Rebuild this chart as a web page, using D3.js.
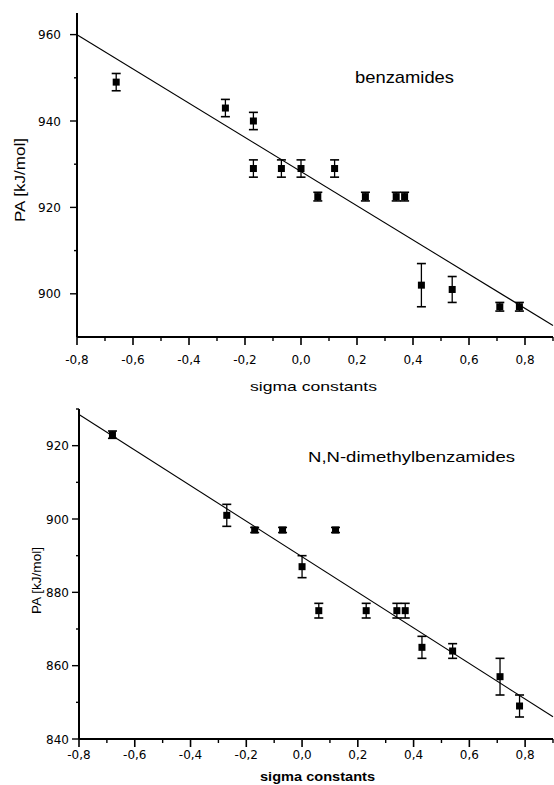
<!DOCTYPE html>
<html>
<head>
<meta charset="utf-8">
<script src="https://cdn.jsdelivr.net/npm/d3@7"></script>
<style>
  body { margin: 0; background: #fff; }
  svg { display: block; }
</style>
</head>
<body>
<script>
// benzamides (upper panel)
const benzSigma = [-0.66, -0.27, -0.17, -0.17, -0.07, 0.0, 0.12, 0.06, 0.23, 0.34, 0.37, 0.43, 0.54, 0.71, 0.78];
const benzPA    = [949, 943, 940, 929, 929, 929, 929, 922.5, 922.5, 922.5, 922.5, 902, 901, 897, 897];
const benzErr   = [2, 2, 2, 2, 2, 2, 2, 1, 1, 1, 1, 5, 3, 1, 1];
const benzFit   = [928.3, -39.6]; // intercept, slope

// N,N-dimethylbenzamides (lower panel)
const dmbSigma = [-0.68, -0.27, -0.17, -0.07, 0.12, 0.0, 0.06, 0.23, 0.34, 0.37, 0.43, 0.54, 0.71, 0.78];
const dmbPA    = [923, 901, 897, 897, 897, 887, 875, 875, 875, 875, 865, 864, 857, 849];
const dmbErr   = [1, 3, 0.7, 0.7, 0.7, 3, 2, 2, 2, 2, 3, 2, 5, 3];
const dmbFit   = [889.7, -48.5];

const xMajor = [-0.8, -0.6, -0.4, -0.2, 0.0, 0.2, 0.4, 0.6, 0.8];
const xMinor = [-0.7, -0.5, -0.3, -0.1, 0.1, 0.3, 0.5, 0.7, 0.9];
const xTickLabels = ["-0,8", "-0,6", "-0,4", "-0,2", "0,0", "0,2", "0,4", "0,6", "0,8"];

const topYMajor = [900, 920, 940, 960];
const topYMinor = [910, 930, 950];
const botYMajor = [840, 860, 880, 900, 920];
const botYMinor = [850, 870, 890, 910, 930];

const svg = d3.select("body").append("svg")
  .attr("width", 554)
  .attr("height", 785);

function drawPanel(p) {
  const x = d3.scaleLinear().domain([-0.8, 0.9]).range([p.left, 553]);
  const y = d3.scaleLinear().domain(p.yDomain).range([p.bottom, p.top]);
  const g = svg.append("g");

  // axes lines
  g.append("line")
    .attr("x1", x(-0.8)).attr("x2", x(0.9))
    .attr("y1", p.bottom).attr("y2", p.bottom)
    .style("stroke", "#000").style("stroke-width", 2);
  g.append("line")
    .attr("x1", p.left).attr("x2", p.left)
    .attr("y1", p.top).attr("y2", p.bottom)
    .style("stroke", "#000").style("stroke-width", 2);

  // x ticks
  g.selectAll(".xmaj").data(xMajor).enter().append("line")
    .attr("x1", d => x(d)).attr("x2", d => x(d))
    .attr("y1", p.bottom).attr("y2", p.bottom + 8)
    .style("stroke", "#000").style("stroke-width", 1.6);
  g.selectAll(".xmin").data(xMinor).enter().append("line")
    .attr("x1", d => x(d)).attr("x2", d => x(d))
    .attr("y1", p.bottom).attr("y2", p.bottom + 4)
    .style("stroke", "#000").style("stroke-width", 1.4);
  g.selectAll(".xlab").data(xMajor).enter().append("text")
    .attr("x", d => x(d))
    .attr("y", p.xTickBase)
    .attr("text-anchor", "middle")
    .style("font-family", "DejaVu Sans")
    .style("font-size", "12px")
    .text((d, i) => xTickLabels[i]);

  // y ticks
  g.selectAll(".ymaj").data(p.yMajor).enter().append("line")
    .attr("x1", p.left - 7).attr("x2", p.left)
    .attr("y1", d => y(d)).attr("y2", d => y(d))
    .style("stroke", "#000").style("stroke-width", 1.4);
  g.selectAll(".ymin").data(p.yMinor).enter().append("line")
    .attr("x1", p.left - 3).attr("x2", p.left)
    .attr("y1", d => y(d)).attr("y2", d => y(d))
    .style("stroke", "#000").style("stroke-width", 1.4);
  g.selectAll(".ylab").data(p.yMajor).enter().append("text")
    .attr("x", p.yLabRight)
    .attr("y", d => y(d) + 4.5)
    .attr("text-anchor", "end")
    .style("font-family", "DejaVu Sans")
    .style("font-size", "12px")
    .text(d => d);

  // regression line
  const fit = v => p.fit[0] + p.fit[1] * v;
  g.append("line")
    .attr("x1", x(-0.8)).attr("y1", y(fit(-0.8)))
    .attr("x2", x(0.9)).attr("y2", y(fit(0.9)))
    .style("stroke", "#000").style("stroke-width", 1.1);

  // error bars + squares
  p.sx.forEach((s, i) => {
    const cx = x(s), cy = y(p.pa[i]);
    const y0 = y(p.pa[i] - p.err[i]), y1 = y(p.pa[i] + p.err[i]);
    g.append("line").attr("x1", cx).attr("x2", cx).attr("y1", y0).attr("y2", y1)
      .style("stroke", "#000").style("stroke-width", 1.3);
    [y0, y1].forEach(yy => {
      g.append("line").attr("x1", cx - 4.5).attr("x2", cx + 4.5).attr("y1", yy).attr("y2", yy)
        .style("stroke", "#000").style("stroke-width", 1.6);
    });
    g.append("rect")
      .attr("x", cx - 3.5).attr("y", cy - 3.5)
      .attr("width", 7).attr("height", 7)
      .style("fill", "#000");
  });

  // titles
  g.append("text")
    .attr("x", p.xTitle[0]).attr("y", p.xTitle[1])
    .attr("textLength", p.xTitle[2]).attr("lengthAdjust", "spacingAndGlyphs")
    .style("font-family", "Liberation Sans, Arial, sans-serif")
    .style("font-size", p.xTitle[3] + "px")
    .style("font-weight", p.xTitleBold ? "bold" : "normal")
    .text("sigma constants");
  g.append("text")
    .attr("transform", `translate(${p.yTitle[0]},${p.yTitle[1]}) rotate(-90)`)
    .attr("textLength", p.yTitle[2]).attr("lengthAdjust", "spacingAndGlyphs")
    .style("font-family", "Liberation Sans, Arial, sans-serif")
    .style("font-size", p.yTitle[3] + "px")
    .text(p.yTitleText);
  g.append("text")
    .attr("x", p.label[0]).attr("y", p.label[1])
    .attr("textLength", p.label[2]).attr("lengthAdjust", "spacingAndGlyphs")
    .style("font-family", "Liberation Sans, Arial, sans-serif")
    .style("font-size", p.label[3] + "px")
    .text(p.labelText);
}

drawPanel({
  left: 77, top: 13, bottom: 337, yDomain: [890, 965],
  yMajor: topYMajor, yMinor: topYMinor, yLabRight: 61,
  xTickBase: 364,
  sx: benzSigma, pa: benzPA, err: benzErr, fit: benzFit,
  xTitle: [250, 391, 127, 13],
  yTitle: [25, 222, 84, 14], yTitleText: "PA  [kJ/mol]",
  label: [355, 83, 99, 17], labelText: "benzamides"
});

drawPanel({
  left: 79, top: 409, bottom: 739, yDomain: [840, 930],
  yMajor: botYMajor, yMinor: botYMinor, yLabRight: 69,
  xTickBase: 759,
  sx: dmbSigma, pa: dmbPA, err: dmbErr, fit: dmbFit,
  xTitle: [260, 781, 115, 13], xTitleBold: true,
  yTitle: [41, 614, 67, 13], yTitleText: "PA [kJ/mol]",
  label: [308, 462, 207, 15], labelText: "N,N-dimethylbenzamides"
});
</script>
</body>
</html>
